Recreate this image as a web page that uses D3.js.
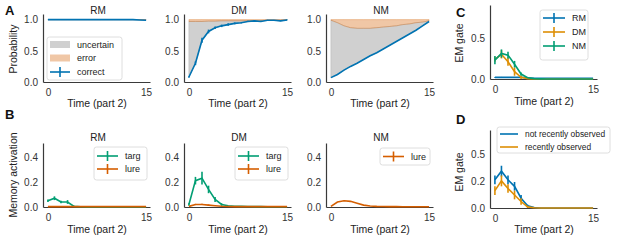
<!DOCTYPE html>
<html>
<head>
<meta charset="utf-8">
<script src="https://cdn.jsdelivr.net/npm/d3@7"></script>
<style>
  body { margin: 0; background: #fff; }
  svg { font-family: "Liberation Sans", Arial, sans-serif; }
  .axis .domain { stroke: #3a3a3a; stroke-width: 1.2; }
  .axis text { fill: #333; font-size: 10px; }
</style>
</head>
<body>
<div class="canvas"></div>
<script>
// time steps (part 2)
const steps = d3.range(16)
const xTicks = [0, 15]

// A: probability of outcomes
const probRMCorrect = [1,1,1,1,1,1,1,1,1,1,1,1,1,1,0.995,0.99]
const probRMError   = [0,0,0,0,0,0,0,0,0,0,0,0,0,0,0,0]
const probDMCorrect = [0.08,0.30,0.67,0.81,0.87,0.90,0.92,0.94,0.95,0.97,0.98,0.97,0.99,0.99,0.98,0.995]
const probDMCorrectErr = [0.01,0.03,0.04,0.03,0.02,0.02,0.02,0.015,0.01,0.01,0.01,0.01,0.005,0.005,0.005,0.005]
const probDMError   = [0.03,0.03,0.03,0.025,0.025,0.02,0.02,0.02,0.02,0.015,0.015,0.015,0.01,0.01,0.01,0.005]
const probNMCorrect = [0.07,0.12,0.19,0.25,0.30,0.36,0.42,0.47,0.53,0.59,0.65,0.71,0.77,0.83,0.90,0.97]
const probNMError   = [0.01,0.05,0.10,0.13,0.14,0.14,0.14,0.13,0.12,0.11,0.10,0.08,0.07,0.05,0.04,0.02]

// B: memory activation
const targRM    = [0.05,0.07,0.04,0.04,0.005,0.002,0.001,0,0,0,0,0,0,0,0,0]
const targRMErr = [0.01,0.015,0.01,0.015,0.005,0,0,0,0,0,0,0,0,0,0,0]
const lureRM    = [0.003,0.003,0.003,0.003,0.003,0.003,0.003,0.003,0.003,0.003,0.003,0.003,0.003,0.003,0.003,0.003]
const lureRMErr = [0,0,0,0,0,0,0,0,0,0,0,0,0,0,0,0]
const targDM    = [0.02,0.21,0.23,0.14,0.06,0.02,0.01,0.006,0.005,0.004,0.003,0.003,0.002,0.002,0.002,0.002]
const targDMErr = [0.01,0.03,0.05,0.03,0.02,0.01,0,0,0,0,0,0,0,0,0,0]
const lureDM    = [0.005,0.02,0.02,0.015,0.01,0.006,0.004,0.003,0.003,0.003,0.003,0.003,0.003,0.003,0.003,0.003]
const lureDMErr = [0,0.005,0.005,0.005,0,0,0,0,0,0,0,0,0,0,0,0]
const lureNM    = [0.005,0.04,0.05,0.045,0.03,0.015,0.008,0.005,0.004,0.003,0.003,0.002,0.002,0.002,0.002,0.002]
const lureNMErr = [0,0,0,0,0,0,0,0,0,0,0,0,0,0,0,0]

// C: EM gate by condition
const gateRM    = [0.02,0.02,0.02,0.02,0.02,0.015,0.01,0.01,0.01,0.01,0.01,0.01,0.01,0.01,0.01,0.01]
const gateRMErr = [0.005,0.005,0.005,0.005,0.005,0,0,0,0,0,0,0,0,0,0,0]
const gateDM    = [0.24,0.30,0.21,0.09,0.02,0.005,0,0,0,0,0,0,0,0,0,0]
const gateDMErr = [0.03,0.05,0.05,0.05,0.02,0,0,0,0,0,0,0,0,0,0,0]
const gateNM    = [0.23,0.31,0.29,0.18,0.06,0.015,0.005,0.002,0,0,0,0,0,0,0,0]
const gateNMErr = [0.05,0.05,0.04,0.04,0.02,0,0,0,0,0,0,0,0,0,0,0]

// D: EM gate by observation recency
const gateNotRecent    = [0.26,0.34,0.26,0.20,0.09,0.02,0.005,0,0,0,0,0,0,0,0,0]
const gateNotRecentErr = [0.04,0.05,0.04,0.04,0.03,0.01,0,0,0,0,0,0,0,0,0,0]
const gateRecent       = [0.16,0.25,0.18,0.12,0.06,0.01,0.003,0,0,0,0,0,0,0,0,0]
const gateRecentErr    = [0.04,0.05,0.04,0.04,0.03,0.01,0,0,0,0,0,0,0,0,0,0]
// D ticks sit at 0, .25, .5 but are printed with one decimal
const dTicks = [0, 0.25, 0.5]
const dTickLabels = ['0.0', '0.2', '0.5']

const blue = '#0173b2', orange = '#de8f05', green = '#029e73', red = '#d55e00'

const svg = d3.select('.canvas').append('svg')
    .attr('width', 617)
    .attr('height', 241)

// builds one subplot: scales + left/bottom spines
const panel = (x0, yBottom, yTop, yDomain, yTicks, yFmt) => {
    const x = d3.scaleLinear().domain([-0.75, 15.6]).range([x0, x0 + 107])
    const y = d3.scaleLinear().domain(yDomain).range([yBottom, yTop])

    svg.append('g')
        .attr('class', 'axis')
        .attr('transform', `translate(0, ${yBottom})`)
        .call(d3.axisBottom(x).tickValues(xTicks).tickSize(0).tickPadding(7))
    svg.append('g')
        .attr('class', 'axis')
        .attr('transform', `translate(${x0}, 0)`)
        .call(d3.axisLeft(y).tickValues(yTicks).tickSize(0).tickPadding(5).tickFormat(yFmt || d3.format('.1f')))
    return {x, y, x0}
}

const text = (x, y, s, size, opts = {}) => {
    const t = svg.append('text')
        .attr('x', x).attr('y', y)
        .attr('font-size', size)
        .attr('fill', opts.fill || '#222')
        .attr('text-anchor', opts.anchor || 'middle')
        .attr('font-weight', opts.bold ? 'bold' : null)
        .text(s)
    if (opts.rotate) t.attr('transform', `rotate(-90, ${x}, ${y})`)
    return t
}

// line with vertical error bars
const errLine = (p, vals, errs, color, width = 1.6) => {
    const line = d3.line().x((d, i) => p.x(steps[i])).y(d => p.y(d))
    svg.append('path')
        .datum(vals)
        .attr('fill', 'none')
        .attr('stroke', color)
        .attr('stroke-width', width)
        .attr('d', line)
    svg.append('g').selectAll('line')
        .data(vals.map((v, i) => ({v, e: errs ? errs[i] : 0, t: steps[i]})).filter(d => d.e > 0))
        .enter().append('line')
        .attr('x1', d => p.x(d.t)).attr('x2', d => p.x(d.t))
        .attr('y1', d => p.y(d.v - d.e)).attr('y2', d => p.y(d.v + d.e))
        .attr('stroke', color)
        .attr('stroke-width', width)
}

const legendBox = (x, y, w, h) => {
    svg.append('rect')
        .attr('x', x).attr('y', y).attr('width', w).attr('height', h)
        .attr('rx', 2.5)
        .attr('fill', '#fff')
        .attr('fill-opacity', 0.85)
        .attr('stroke', '#d6d6d6')
        .attr('stroke-width', 0.8)
}
const legendLine = (x, y, len, color, label, size, bar = true) => {
    svg.append('line')
        .attr('x1', x).attr('x2', x + len).attr('y1', y).attr('y2', y)
        .attr('stroke', color).attr('stroke-width', 1.6)
    if (bar) {
        svg.append('line')
            .attr('x1', x + len / 2).attr('x2', x + len / 2).attr('y1', y - 5).attr('y2', y + 5)
            .attr('stroke', color).attr('stroke-width', 1.6)
    }
    text(x + len + 7, y + size * 0.35, label, size, {anchor: 'start'})
}

// ---------- Row A ----------
const condsA = [
    {name: 'RM', x0: 43, correct: probRMCorrect, error: probRMError, err: null},
    {name: 'DM', x0: 184, correct: probDMCorrect, error: probDMError, err: probDMCorrectErr},
    {name: 'NM', x0: 326, correct: probNMCorrect, error: probNMError, err: null}
]
condsA.forEach(c => {
    const p = panel(c.x0, 82, 14, [0, 1.09], [0, 0.5, 1])
    const rows = steps.map((t, i) => ({t, c: c.correct[i], e: c.error[i]}))
    const uncertain = d3.area().x(d => p.x(d.t)).y0(d => p.y(d.c)).y1(d => p.y(1 - d.e))
    const error = d3.area().x(d => p.x(d.t)).y0(d => p.y(1 - d.e)).y1(d => p.y(1))
    svg.append('path').datum(rows).attr('d', uncertain)
        .attr('fill', '#d0d0d0').attr('stroke', '#b8b8b8').attr('stroke-width', 0.6)
    svg.append('path').datum(rows).attr('d', error)
        .attr('fill', red).attr('fill-opacity', 0.35)
        .attr('stroke', red).attr('stroke-opacity', 0.35).attr('stroke-width', 0.8)
    errLine(p, c.correct, c.err, blue)
    text(c.x0 + 55, 14, c.name, 10)
    text(c.x0 + 54, 107, 'Time (part 2)', 10.5)
})
text(17, 49, 'Probability', 10.5, {rotate: true})

// legend A
legendBox(47, 37, 75, 43)
svg.append('rect').attr('x', 50).attr('y', 41).attr('width', 20).attr('height', 7).attr('fill', '#d0d0d0')
text(77, 47.5, 'uncertain', 9, {anchor: 'start'})
svg.append('rect').attr('x', 50).attr('y', 54.5).attr('width', 20).attr('height', 7)
    .attr('fill', red).attr('fill-opacity', 0.35)
text(77, 61, 'error', 9, {anchor: 'start'})
legendLine(50, 72, 20, blue, 'correct', 9)

// ---------- Row B ----------
const condsB = [
    {name: 'RM', x0: 43, series: [[targRM, targRMErr, green], [lureRM, lureRMErr, red]]},
    {name: 'DM', x0: 184, series: [[targDM, targDMErr, green], [lureDM, lureDMErr, red]]},
    {name: 'NM', x0: 326, series: [[lureNM, lureNMErr, red]]}
]
condsB.forEach(c => {
    const p = panel(c.x0, 207, 143, [0, 0.51], [0, 0.2, 0.4])
    c.series.forEach(s => errLine(p, s[0], s[1], s[2]))
    text(c.x0 + 55, 141, c.name, 10)
    text(c.x0 + 54, 233, 'Time (part 2)', 10.5)
})
text(17, 175, 'Memory activation', 10.5, {rotate: true})

legendBox(94, 147, 53, 33)
legendLine(97, 156, 21, green, 'targ', 9)
legendLine(97, 169, 21, red, 'lure', 9)
legendBox(235, 147, 53, 33)
legendLine(238, 156, 21, green, 'targ', 9)
legendLine(238, 169, 21, red, 'lure', 9)
legendBox(380, 148, 50, 17)
legendLine(383, 156.5, 21, red, 'lure', 9)

// ---------- Panel C ----------
const pC = panel(490, 79, 5, [0, 0.9], [0, 0.5])
errLine(pC, gateRM, gateRMErr, blue)
errLine(pC, gateDM, gateDMErr, orange)
errLine(pC, gateNM, gateNMErr, green)
text(544, 105, 'Time (part 2)', 10.5)
text(463, 43, 'EM gate', 10.5, {rotate: true})
legendBox(540, 10, 48, 50)
legendLine(543, 18, 22, blue, 'RM', 9)
legendLine(543, 32, 22, orange, 'DM', 9)
legendLine(543, 46, 22, green, 'NM', 9)

// ---------- Panel D ----------
const pD = panel(490, 208, 130, [0, 0.72], dTicks, (d, i) => dTickLabels[i])
errLine(pD, gateNotRecent, gateNotRecentErr, blue)
errLine(pD, gateRecent, gateRecentErr, orange)
text(544, 233, 'Time (part 2)', 10.5)
text(463, 172, 'EM gate', 10.5, {rotate: true})
legendBox(497, 127, 113, 26)
legendLine(500, 134, 18, blue, 'not recently observed', 8.4, false)
legendLine(500, 147, 18, orange, 'recently observed', 8.4, false)

// panel letters
text(5, 15, 'A', 13, {anchor: 'start', bold: true, fill: '#111'})
text(5, 119, 'B', 13, {anchor: 'start', bold: true, fill: '#111'})
text(456, 17, 'C', 13, {anchor: 'start', bold: true, fill: '#111'})
text(456, 124, 'D', 13, {anchor: 'start', bold: true, fill: '#111'})
</script>
</body>
</html>
